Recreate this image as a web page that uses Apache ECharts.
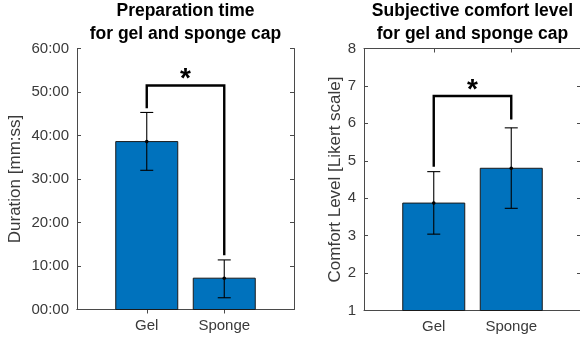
<!DOCTYPE html>
<html>
<head>
<meta charset="utf-8">
<script src="https://cdn.jsdelivr.net/npm/echarts@6/dist/echarts.min.js"></script>
<style>
  html, body { margin: 0; padding: 0; background: #fff; }
  #chart { width: 580px; height: 340px; }
</style>
</head>
<body>
<div id="chart"></div>
<script>
// Category names and their positions on the x scale
const categories = ['Gel', 'Sponge'];
const categoryPositions = [1, 2];

// Preparation time (minutes): mean with lower / upper error bounds
const durationMean = [38.6, 7.2];
const durationLow = [32.0, 2.7];
const durationHigh = [45.3, 11.4];
const durationTickLabels = ['00:00', '10:00', '20:00', '30:00', '40:00', '50:00', '60:00'];
// Significance bracket: [top, left leg end, right leg end]
const durationBracket = [51.5, 46.25, 12.5];

// Subjective comfort (Likert scale): mean with lower / upper error bounds
const comfortMean = [3.87, 4.80];
const comfortLow = [3.04, 3.73];
const comfortHigh = [4.71, 5.88];
const comfortTickLabels = ['1', '2', '3', '4', '5', '6', '7', '8'];
const comfortBracket = [6.73, 4.84, 6.10];

const BAR_COLOR = '#0072BD';
const AXIS_COLOR = '#4a4a4a';
const TEXT_COLOR = '#3a3a3a';
const FONT = 'Liberation Sans, Arial, sans-serif';

const chart = echarts.init(document.getElementById('chart'), null, { renderer: 'canvas' });

function xAxes(gridIndex) {
  const common = {
    type: 'value', gridIndex, min: 0.1, max: 2.9,
    splitLine: { show: false },
    axisLine: { show: true, lineStyle: { color: AXIS_COLOR, width: 1 } },
    axisTick: { show: true, inside: true, length: 4, customValues: categoryPositions,
                lineStyle: { color: AXIS_COLOR } }
  };
  return [
    Object.assign({}, common, {
      position: 'bottom',
      axisLabel: {
        show: true, customValues: categoryPositions, margin: 9,
        fontSize: 15, fontFamily: FONT, color: TEXT_COLOR,
        formatter: v => categories[categoryPositions.indexOf(Math.round(v))] || ''
      }
    }),
    Object.assign({}, common, { position: 'top', axisLabel: { show: false } })
  ];
}

function yAxes(gridIndex, min, max, tickLabels, name, nameGap) {
  const step = (max - min) / (tickLabels.length - 1);
  const common = {
    type: 'value', gridIndex, min, max, interval: step,
    splitLine: { show: false },
    axisLine: { show: true, lineStyle: { color: AXIS_COLOR, width: 1 } },
    axisTick: { show: true, inside: true, length: 4, lineStyle: { color: AXIS_COLOR } }
  };
  return [
    Object.assign({}, common, {
      position: 'left',
      name, nameLocation: 'middle', nameGap,
      nameTextStyle: { fontSize: 17, fontFamily: FONT, color: TEXT_COLOR },
      axisLabel: {
        show: true, margin: 8, fontSize: 15, fontFamily: FONT, color: TEXT_COLOR,
        formatter: v => tickLabels[Math.round((v - min) / step)]
      }
    }),
    Object.assign({}, common, { position: 'right', axisLabel: { show: false } })
  ];
}

// Bars drawn through the axis scales, width 0.8 in category units
function barSeries(idx, means, base) {
  return {
    type: 'custom', xAxisIndex: idx * 2, yAxisIndex: idx * 2, z: 2,
    encode: { x: 0, y: 1 },
    data: categoryPositions.map((x, i) => [x, means[i]]),
    renderItem(params, api) {
      const x = api.value(0), y = api.value(1);
      const p0 = api.coord([x - 0.4, y]);
      const p1 = api.coord([x + 0.4, base]);
      return {
        type: 'rect',
        shape: { x: p0[0], y: p0[1], width: p1[0] - p0[0], height: p1[1] - p0[1] },
        style: { fill: BAR_COLOR, stroke: '#1a1a1a', lineWidth: 1 }
      };
    }
  };
}

function errorSeries(idx, means, lows, highs) {
  return {
    type: 'custom', xAxisIndex: idx * 2, yAxisIndex: idx * 2, z: 3,
    encode: { x: 0, y: [1, 2, 3] },
    data: categoryPositions.map((x, i) => [x, means[i], lows[i], highs[i]]),
    renderItem(params, api) {
      const x = api.value(0);
      const pm = api.coord([x, api.value(1)]);
      const pl = api.coord([x, api.value(2)]);
      const ph = api.coord([x, api.value(3)]);
      const cap = 6.5;
      const ls = { stroke: '#000', lineWidth: 1.1 };
      return {
        type: 'group',
        children: [
          { type: 'line', shape: { x1: pl[0], y1: pl[1], x2: ph[0], y2: ph[1] }, style: ls },
          { type: 'line', shape: { x1: pl[0] - cap, y1: pl[1], x2: pl[0] + cap, y2: pl[1] }, style: ls },
          { type: 'line', shape: { x1: ph[0] - cap, y1: ph[1], x2: ph[0] + cap, y2: ph[1] }, style: ls },
          { type: 'circle', shape: { cx: pm[0], cy: pm[1], r: 1.8 }, style: { fill: '#000' } }
        ]
      };
    }
  };
}

function bracketSeries(idx, bracket) {
  return {
    type: 'custom', xAxisIndex: idx * 2, yAxisIndex: idx * 2, z: 4, clip: false,
    encode: { x: [0, 1], y: [2, 3, 4] },
    data: [[categoryPositions[0], categoryPositions[1], bracket[0], bracket[1], bracket[2]]],
    renderItem(params, api) {
      const x1 = api.value(0), x2 = api.value(1);
      const top = api.value(2);
      const a = api.coord([x1, api.value(3)]);
      const b = api.coord([x1, top]);
      const c = api.coord([x2, top]);
      const d = api.coord([x2, api.value(4)]);
      const mid = api.coord([(x1 + x2) / 2, top]);
      return {
        type: 'group',
        children: [
          { type: 'polyline', shape: { points: [a, b, c, d] },
            style: { stroke: '#000', lineWidth: 2.4, fill: null, lineJoin: 'miter' } },
          { type: 'text', x: mid[0], y: mid[1] - 6,
            style: { text: '*', fontSize: 28, fontWeight: 'bold', fontFamily: FONT,
                     fill: '#000', align: 'center', verticalAlign: 'middle' } }
        ]
      };
    }
  };
}

const titleStyle = { fontSize: 17.5, fontWeight: 'bold', fontFamily: FONT, color: '#000', lineHeight: 23, align: 'center' };

chart.setOption({
  animation: false,
  backgroundColor: '#fff',
  title: [
    { text: 'Preparation time\nfor gel and sponge cap', left: 185.5, top: 0, padding: 0,
      textAlign: 'center', textStyle: titleStyle },
    { text: 'Subjective comfort level\nfor gel and sponge cap', left: 472.5, top: 0, padding: 0,
      textAlign: 'center', textStyle: titleStyle }
  ],
  grid: [
    { left: 77, top: 48.5, width: 217, height: 261, outerBoundsMode: 'none', containLabel: false },
    { left: 364, top: 48.5, width: 217, height: 262, outerBoundsMode: 'none', containLabel: false }
  ],
  xAxis: [...xAxes(0), ...xAxes(1)],
  yAxis: [
    ...yAxes(0, 0, 60, durationTickLabels, 'Duration [mm:ss]', 53),
    ...yAxes(1, 1, 8, comfortTickLabels, 'Comfort Level [Likert scale]', 20)
  ],
  series: [
    barSeries(0, durationMean, 0),
    errorSeries(0, durationMean, durationLow, durationHigh),
    bracketSeries(0, durationBracket),
    barSeries(1, comfortMean, 1),
    errorSeries(1, comfortMean, comfortLow, comfortHigh),
    bracketSeries(1, comfortBracket)
  ]
});
</script>
</body>
</html>
